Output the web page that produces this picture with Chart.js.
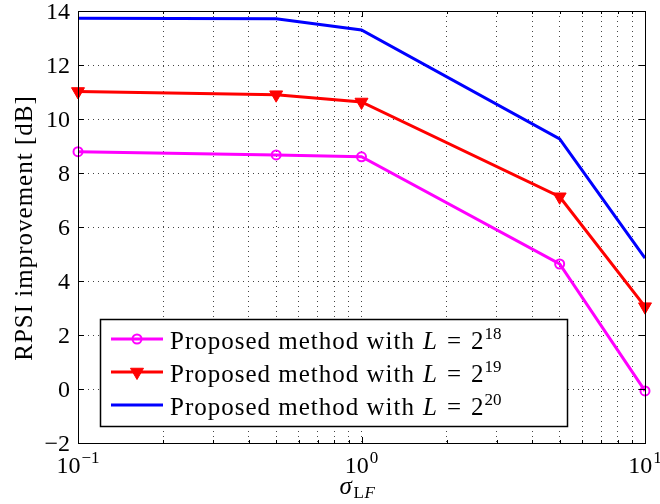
<!DOCTYPE html>
<html>
<head>
<meta charset="utf-8">
<script src="https://cdn.jsdelivr.net/npm/chart.js@4.4.0/dist/chart.umd.min.js"></script>
<style>
  html, body { margin: 0; padding: 0; background: #fff; }
  #wrap { width: 660px; height: 504px; }
</style>
</head>
<body>
<div id="wrap"><canvas id="chart" width="660" height="504"></canvas></div>
<script>
// --- data ---
const sigmaLF = [0.1, 0.5, 1, 5, 10];
const rpsiL18 = [8.79, 8.67, 8.6, 4.63, -0.07];
const rpsiL19 = [11.02, 10.9, 10.63, 7.12, 3.05];
const rpsiL20 = [13.73, 13.71, 13.3, 9.26, 4.85];
const seriesExp = ['18', '19', '20'];

// tick positions
const xGridTicks = [0.1, 0.2, 0.3, 0.4, 0.5, 0.6, 0.7, 0.8, 0.9, 1, 2, 3, 4, 5, 6, 7, 8, 9, 10];
const xMajorTicks = [0.1, 1, 10];
const xMajorExp = ['\u22121', '0', '1'];
const yTicks = [-2, 0, 2, 4, 6, 8, 10, 12, 14];

const FONT = '"Liberation Serif", "DejaVu Serif", serif';
const toPts = ys => sigmaLF.map((x, i) => ({ x, y: ys[i] }));

// superscript text helper: base + raised exponent
function powText(ctx, base, exp, x, y, align, size, esize) {
  ctx.font = size + 'px ' + FONT;
  const wb = ctx.measureText(base).width;
  ctx.font = esize + 'px ' + FONT;
  const we = ctx.measureText(exp).width;
  const w = wb + we + 1;
  let x0 = x;
  if (align === 'center') x0 = x - w / 2;
  if (align === 'right') x0 = x - w;
  ctx.textAlign = 'left';
  ctx.font = size + 'px ' + FONT;
  ctx.fillText(base, x0, y);
  ctx.font = esize + 'px ' + FONT;
  ctx.fillText(exp, x0 + wb + 1, y - 10);
  return w;
}

const decorations = {
  id: 'decorations',
  afterDraw(chart) {
    const { ctx, chartArea: a, scales: { x, y } } = chart;
    ctx.save();
    ctx.fillStyle = '#000';
    ctx.strokeStyle = '#000';

    // axes box
    ctx.lineWidth = 1;
    ctx.strokeRect(Math.round(a.left) + 0.5, Math.round(a.top) + 0.5,
      Math.round(a.right - a.left), Math.round(a.bottom - a.top));

    // inner tick marks
    ctx.beginPath();
    xGridTicks.forEach(v => {
      const px = Math.round(x.getPixelForValue(v)) + 0.5;
      const len = xMajorTicks.includes(v) ? 6 : 3;
      ctx.moveTo(px, a.bottom); ctx.lineTo(px, a.bottom - len);
      ctx.moveTo(px, a.top); ctx.lineTo(px, a.top + len);
    });
    yTicks.forEach(v => {
      const py = Math.round(y.getPixelForValue(v)) + 0.5;
      ctx.moveTo(a.left, py); ctx.lineTo(a.left + 6, py);
      ctx.moveTo(a.right, py); ctx.lineTo(a.right - 6, py);
    });
    ctx.stroke();

    // y tick labels
    ctx.font = '24px ' + FONT;
    ctx.textAlign = 'right';
    ctx.textBaseline = 'alphabetic';
    yTicks.forEach(v => {
      const py = y.getPixelForValue(v);
      ctx.fillText(v < 0 ? '\u2212' + Math.abs(v) : String(v), a.left - 8, py + 8);
    });

    // x tick labels 10^k
    xMajorTicks.forEach((v, i) => {
      powText(ctx, '10', xMajorExp[i], x.getPixelForValue(v), a.bottom + 30, 'center', 24, 17);
    });

    // y title
    ctx.save();
    ctx.translate(32, (a.top + a.bottom) / 2 + 1);
    ctx.rotate(-Math.PI / 2);
    ctx.textAlign = 'center';
    ctx.font = '25px ' + FONT;
    ctx.letterSpacing = '1px';
    ctx.fillText('RPSI improvement [dB]', 0, 0);
    ctx.restore();

    // x title: sigma_LF
    const cx = (a.left + a.right) / 2;
    ctx.textAlign = 'left';
    ctx.font = 'italic 25px ' + FONT;
    ctx.fillText('\u03c3', cx - 22, 494);
    ctx.font = '17px ' + FONT;
    ctx.fillText('L', cx - 8, 498);
    ctx.font = 'italic 17px ' + FONT;
    ctx.fillText('F', cx + 3, 498);

    // legend
    const lx = 100, ly = 319, lw = 467, lh = 107;
    ctx.fillStyle = '#fff';
    ctx.fillRect(lx, ly, lw, lh);
    ctx.lineWidth = 1.5;
    ctx.strokeStyle = '#000';
    ctx.strokeRect(lx + 0.5, ly + 0.5, lw, lh);
    chart.data.datasets.forEach((ds, i) => {
      const ry = 339 + i * 33;
      ctx.strokeStyle = ds.borderColor;
      ctx.lineWidth = ds.borderWidth;
      ctx.beginPath();
      ctx.moveTo(111, ry); ctx.lineTo(163, ry);
      ctx.stroke();
      if (ds.pointRadius > 0) {
        ctx.fillStyle = ds.pointBackgroundColor;
        ctx.strokeStyle = ds.pointBorderColor;
        ctx.lineWidth = ds.pointBorderWidth;
        Chart.helpers.drawPoint(ctx, {
          pointStyle: ds.pointStyle, radius: ds.pointRadius, rotation: ds.pointRotation || 0,
          borderWidth: ds.pointBorderWidth
        }, 137, ry);
      }
      ctx.fillStyle = '#000';
      ctx.textAlign = 'left';
      const by = ry + 10;
      ctx.font = '25px ' + FONT;
      ctx.letterSpacing = '1px';
      ctx.fillText('Proposed method with', 170, by);
      ctx.letterSpacing = '0px';
      ctx.font = 'italic 25px ' + FONT;
      ctx.fillText('L', 423, by);
      ctx.font = '25px ' + FONT;
      ctx.textAlign = 'center';
      ctx.fillText('=', 454, by);
      ctx.textAlign = 'left';
      powText(ctx, '2', seriesExp[i], 471, by, 'left', 25, 17);
    });
    ctx.restore();
  }
};

Chart.defaults.font.family = FONT;

new Chart(document.getElementById('chart'), {
  type: 'line',
  data: {
    datasets: [
      {
        label: 'L = 2^18', data: toPts(rpsiL18), clip: false,
        borderColor: '#ff00ff', borderWidth: 3,
        pointStyle: 'circle', pointRadius: 4.5, pointBorderWidth: 2,
        pointBorderColor: '#ff00ff', pointBackgroundColor: 'rgba(0,0,0,0)'
      },
      {
        label: 'L = 2^19', data: toPts(rpsiL19), clip: false,
        borderColor: '#ff0000', borderWidth: 3,
        pointStyle: 'triangle', pointRotation: 180, pointRadius: 7.5, pointBorderWidth: 1,
        pointBorderColor: '#ff0000', pointBackgroundColor: '#ff0000'
      },
      {
        label: 'L = 2^20', data: toPts(rpsiL20), clip: false,
        borderColor: '#0000ff', borderWidth: 3,
        pointRadius: 0
      }
    ]
  },
  options: {
    responsive: false,
    animation: false,
    devicePixelRatio: 1,
    layout: { padding: { top: 11, right: 15, left: 0, bottom: 0 } },
    plugins: { legend: { display: false }, tooltip: { enabled: false } },
    elements: { line: { tension: 0 } },
    scales: {
      x: {
        type: 'logarithmic', min: 0.1, max: 10,
        afterBuildTicks: s => { s.ticks = xGridTicks.map(v => ({ value: v })); },
        afterFit: s => { s.height = 61; },
        ticks: { display: false },
        grid: { color: '#444', lineWidth: 1, drawTicks: false },
        border: { display: false, dash: [1, 4] }
      },
      y: {
        min: -2, max: 14,
        afterBuildTicks: s => { s.ticks = yTicks.map(v => ({ value: v })); },
        afterFit: s => { s.width = 78; },
        ticks: { display: false },
        grid: { color: '#444', lineWidth: 1, drawTicks: false },
        border: { display: false, dash: [1, 4] }
      }
    }
  },
  plugins: [decorations]
});
</script>
</body>
</html>
